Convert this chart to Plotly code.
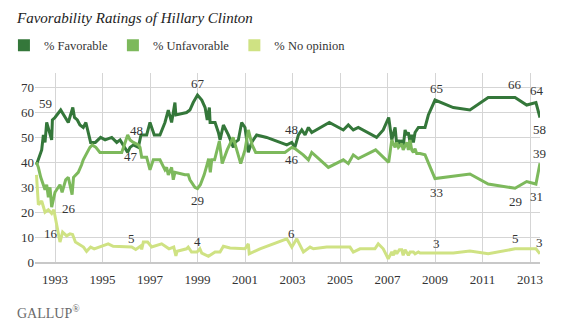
import plotly.graph_objects as go

# ---------------- data ----------------
fav_year = [1992.22, 1992.44, 1992.51, 1992.58, 1992.65, 1992.79, 1992.86, 1992.89, 1993.00, 1993.24,
            1993.30, 1993.56, 1993.75, 1993.82, 1993.94, 1994.05, 1994.19, 1994.30, 1994.50, 1994.70,
            1994.92, 1995.11, 1995.39, 1995.60, 1995.74, 1995.88, 1996.06, 1996.16, 1996.30, 1996.51,
            1996.62, 1996.76, 1996.86, 1997.00, 1997.18, 1997.42, 1997.63, 1997.77, 1997.91, 1998.05,
            1998.09, 1998.54, 1998.68, 1998.82, 1999.00, 1999.18, 1999.32, 1999.41, 1999.50, 1999.53,
            1999.74, 1999.88, 1999.95, 2000.09, 2000.30, 2000.51, 2000.58, 2000.72, 2000.86, 2001.00,
            2001.14, 2001.28, 2001.49, 2001.91, 2002.76, 2002.97, 2003.10, 2003.25, 2003.39, 2003.53,
            2003.67, 2003.81, 2004.55, 2005.14, 2005.35, 2005.56, 2005.77, 2006.54, 2006.82, 2007.05,
            2007.18, 2007.32, 2007.39, 2007.46, 2007.53, 2007.60, 2007.66, 2007.74, 2007.81, 2007.88,
            2007.95, 2008.02, 2008.09, 2008.16, 2008.30, 2008.44, 2008.58, 2008.72, 2009.00, 2009.77,
            2010.47, 2011.24, 2012.37, 2012.86, 2013.25, 2013.42]
fav = [39, 45, 51, 48, 56, 51, 49, 57, 58, 61,
       60, 56, 62, 58, 57, 55, 54, 56, 48, 48,
       50, 49, 50, 48, 49, 47, 44, 46, 47, 46,
       51, 51, 51, 56, 51, 51, 56, 61, 56, 64,
       59, 60, 61, 64, 67, 65, 62, 57, 62, 56,
       56, 52, 49, 55, 51, 46, 48, 49, 56, 54,
       44, 48, 51, 50, 47, 48, 46, 51, 53, 51,
       54, 52, 56, 53, 55, 53, 54, 50, 53, 58,
       49, 54, 47, 49, 47, 49, 46, 53, 51, 52,
       48, 51, 48, 52, 54, 54, 54, 59, 65, 62,
       61, 66, 66, 63, 64, 58]

unf_year = [1992.22, 1992.30, 1992.40, 1992.58, 1992.65, 1992.72, 1992.79, 1992.86, 1993.00, 1993.21,
            1993.30, 1993.45, 1993.56, 1993.64, 1993.72, 1993.78, 1993.98, 1994.12, 1994.19, 1994.30,
            1994.47, 1994.57, 1994.72, 1994.89, 1995.24, 1995.81, 1996.06, 1996.16, 1996.30, 1996.51,
            1996.58, 1996.65, 1996.76, 1996.86, 1997.00, 1997.14, 1997.42, 1997.63, 1997.70, 1997.77,
            1997.91, 1997.98, 1998.05, 1998.47, 1998.61, 1998.68, 1998.89, 1999.00, 1999.12, 1999.28,
            1999.40, 1999.47, 1999.54, 1999.60, 1999.72, 1999.84, 1999.92, 2000.04, 2000.25, 2000.50,
            2000.60, 2000.82, 2001.00, 2001.14, 2001.30, 2001.45, 2002.68, 2002.97, 2003.10, 2003.25,
            2003.45, 2003.67, 2003.81, 2004.16, 2004.51, 2005.14, 2005.35, 2005.56, 2005.77, 2006.50,
            2007.05, 2007.18, 2007.32, 2007.39, 2007.46, 2007.60, 2007.66, 2007.81, 2007.88, 2007.95,
            2008.02, 2008.09, 2008.16, 2008.23, 2008.37, 2008.58, 2009.00, 2010.47, 2011.24, 2012.37,
            2012.86, 2013.25, 2013.42]
unf = [40, 38, 34, 29, 31, 26, 30, 22, 28, 31,
       28, 33, 34, 30, 27, 34, 36, 39, 41, 43,
       46, 47, 46, 44, 44, 44, 51, 49, 48, 47,
       46, 42, 42, 42, 37, 41, 41, 37, 38, 35,
       38, 33, 36, 35, 35, 33, 30, 29.5, 31, 35,
       39, 41.5, 36, 41, 41, 46, 48.5, 39.5, 45, 50,
       47, 39.5, 45, 53, 47, 44, 44, 46, 45.5, 44.5,
       43, 41, 44, 41, 38, 41, 39.5, 43, 41.5, 45,
       40, 49, 46, 48, 46, 47.5, 45, 48, 45, 49,
       45, 44, 45.5, 43.5, 43.5, 43, 33.5, 35.3, 31.3, 29.6,
       32.3, 31.3, 39.6]

nop_year = [1992.22, 1992.26, 1992.30, 1992.44, 1992.58, 1992.72, 1992.86, 1992.95, 1993.07, 1993.21,
            1993.32, 1993.49, 1993.63, 1993.74, 1993.86, 1994.05, 1994.20, 1994.33, 1994.50, 1994.65,
            1995.00, 1995.24, 1995.45, 1996.05, 1996.23, 1996.40, 1996.62, 1996.65, 1996.72, 1996.90,
            1997.07, 1997.49, 1997.80, 1998.00, 1998.09, 1998.14, 1998.54, 1998.61, 1998.75, 1998.98,
            1999.10, 1999.18, 1999.46, 1999.74, 1999.95, 2000.09, 2000.37, 2001.00, 2001.14, 2001.18,
            2001.63, 2002.76, 2002.97, 2003.18, 2003.46, 2003.74, 2003.88, 2004.44, 2005.42, 2005.56,
            2005.84, 2006.47, 2006.61, 2006.82, 2007.03, 2007.18, 2007.25, 2007.32, 2007.39, 2007.50,
            2007.60, 2007.66, 2007.74, 2007.88, 2007.95, 2008.09, 2008.16, 2008.30, 2008.37, 2009.00,
            2009.77, 2010.47, 2011.24, 2012.37, 2012.86, 2013.25, 2013.42]
nop = [35, 27, 23, 24.5, 20, 21, 19.5, 21, 15, 8,
       12, 10.5, 11.3, 11, 8, 7, 6, 4.3, 6, 5.3,
       6.5, 7.3, 6.3, 6, 6, 5, 6.5, 5, 8, 8,
       6, 7.3, 5.3, 6, 2.5, 4.3, 5.3, 6, 4, 4,
       5.3, 3.6, 2.3, 4, 4, 6.3, 5.6, 5.3, 7.3, 3.3,
       5.3, 9.3, 6, 9.3, 4, 6, 5.3, 6, 6, 4,
       5.3, 5.3, 7.3, 5.3, 1.3, 4, 2.7, 4.7, 3.3, 4.9,
       4.9, 2.7, 4.9, 2.7, 4, 4, 3.3, 4, 3.6, 3.6,
       3.6, 4.4, 3.3, 5.3, 5.3, 5.3, 3.3]

series_names = ["% Favorable", "% Unfavorable", "% No opinion"]
tick_years = list(range(1993, 2014, 2))
tick_labels = [str(y) for y in tick_years]
y_ticks = [0, 10, 20, 30, 40, 50, 60, 70]

# data labels: (series key, year of the labelled poll, text, xshift px, yshift px)
point_labels = [
    ("fav", 1992.65, "59", -1, 19), ("fav", 1996.30, "47", -2, -12), ("unf", 1996.30, "48", 3, 12),
    ("fav", 1999.00, "67", 0, 12), ("unf", 1999.00, "29", 0, -12),
    ("fav", 2002.97, "48", 0, 13), ("unf", 2002.97, "46", 0, -12),
    ("fav", 2009.00, "65", 1, 12), ("unf", 2009.00, "33", 1, -14),
    ("fav", 2012.37, "66", 0, 13), ("unf", 2012.37, "29", 0, -13),
    ("fav", 2013.25, "64", 1, 12), ("unf", 2013.25, "31", 1, -12),
    ("fav", 2013.42, "58", 0, -12), ("unf", 2013.42, "39", 0, 10),
    ("unf", 1992.86, "26", 17, -1), ("nop", 1993.07, "16", -6, -9),
    ("nop", 1996.23, "5", 0, 9), ("nop", 1998.98, "4", 0, 11), ("nop", 2002.97, "6", 0, 14),
    ("nop", 2009.00, "3", 1, 10), ("nop", 2012.37, "5", 0, 10), ("nop", 2013.42, "3", 0, 11),
]

# ---------------- styling ----------------
colors = {"fav": "#34773a", "unf": "#7db95c", "nop": "#cfe283"}
FONT = "Liberation Serif"
TXT = "#333333"
GRID = "#d5d5d5"

series = {"fav": (fav_year, fav), "unf": (unf_year, unf), "nop": (nop_year, nop)}
keys = ["fav", "unf", "nop"]

fig = go.Figure()
for k in keys:
    xs, ys = series[k]
    fig.add_trace(go.Scatter(x=xs, y=ys, mode="lines", showlegend=False, hoverinfo="skip",
                             line=dict(color=colors[k], width=3, shape="linear")))
# legend entries with square swatches
for k, name in zip(keys, series_names):
    fig.add_trace(go.Scatter(x=[None], y=[None], mode="markers", name=name,
                             marker=dict(symbol="square", size=12, color=colors[k])))

annotations = []
for k, yr, text, dx, dy in point_labels:
    xs, ys = series[k]
    i = min(range(len(xs)), key=lambda j: abs(xs[j] - yr))
    annotations.append(dict(x=xs[i], y=ys[i], xref="x", yref="y", text=text, showarrow=False,
                            xshift=dx, yshift=dy, font=dict(family=FONT, size=13, color=TXT)))

annotations.append(dict(xref="paper", yref="paper", x=-0.0396, y=-0.265, xanchor="left", yanchor="middle",
                        text="GALLUP<sup>®</sup>", showarrow=False,
                        font=dict(family=FONT, size=14, color="#6a6a6a")))

fig.update_layout(
    width=562, height=328,
    margin=dict(l=35, r=22, t=73, b=66),
    paper_bgcolor="white", plot_bgcolor="white",
    font=dict(family=FONT, color=TXT),
    title=dict(text="<i>Favorability Ratings of Hillary Clinton</i>",
               font=dict(family=FONT, size=15, color="#222222"),
               xref="container", yref="container", x=17 / 562, xanchor="left",
               y=1 - 18 / 328, yanchor="middle"),
    legend=dict(orientation="h", xref="container", yref="container", x=0.007, xanchor="left",
                y=1 - 45.5 / 328, yanchor="middle", bgcolor="rgba(0,0,0,0)",
                font=dict(family=FONT, size=12.5, color=TXT)),
    xaxis=dict(range=[1992.158, 2013.421], tickmode="array", tickvals=tick_years, ticktext=tick_labels,
               showgrid=True, gridcolor=GRID, gridwidth=1, zeroline=False,
               showline=True, linecolor="#c8c8c8", linewidth=2, ticks="", ticklabelstandoff=4,
               tickfont=dict(family=FONT, size=13, color=TXT), fixedrange=True),
    yaxis=dict(range=[0, 75.86], tickmode="array", tickvals=y_ticks,
               showgrid=True, gridcolor=GRID, gridwidth=1, zeroline=False, showline=False, ticks="",
               tickfont=dict(family=FONT, size=13, color=TXT), fixedrange=True),
    annotations=annotations,
    hovermode=False,
)

fig.write_html("out.html", config={"displayModeBar": False})
